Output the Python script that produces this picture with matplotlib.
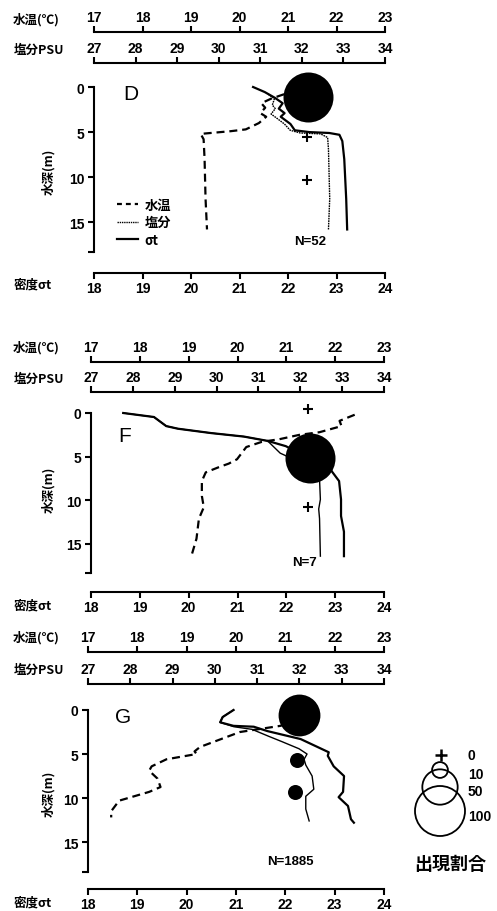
import matplotlib
matplotlib.use('Agg')
import matplotlib.pyplot as plt
from matplotlib.lines import Line2D
from matplotlib.font_manager import FontProperties

W, H = 497, 912
plt.rcParams['font.family'] = ['Liberation Sans', 'Noto Sans CJK JP', 'DejaVu Sans']
plt.rcParams['font.weight'] = 'bold'

CJK = ['Noto Sans CJK JP', 'DejaVu Sans']

# ---------------- data ----------------
temp_ticks = [17, 18, 19, 20, 21, 22, 23]
sal_ticks = [27, 28, 29, 30, 31, 32, 33, 34]
sig_ticks = [18, 19, 20, 21, 22, 23, 24]
depth_ticks = [0, 5, 10, 15]

# Panel D
D_temp = [20.92, 20.65, 20.45, 20.53, 20.43, 20.55, 20.4, 20.13, 19.82, 19.2, 19.26, 19.28, 19.3, 19.33]
D_temp_d = [0.8, 1.3, 1.8, 2.3, 2.9, 3.3, 4.0, 4.7, 4.9, 5.2, 5.8, 8.0, 12.4, 15.8]
D_sal = [31.19, 31.34, 31.29, 31.36, 31.26, 31.38, 31.58, 31.72, 31.96, 32.45, 32.62, 32.64, 32.67, 32.64]
D_sal_d = [0.8, 1.3, 2.0, 2.4, 3.0, 3.4, 4.1, 4.8, 5.1, 5.2, 5.6, 6.9, 12.4, 15.8]
D_sig = [21.28, 21.52, 21.73, 21.89, 21.81, 21.93, 21.85, 22.05, 22.14, 22.44, 22.85, 23.06, 23.12, 23.16, 23.2, 23.22]
D_sig_d = [0, 0.56, 1.2, 1.8, 2.4, 2.9, 3.3, 4.1, 4.8, 5.0, 5.1, 5.3, 6.0, 8.0, 12.4, 15.8]
D_occ_x = [22.42, 22.40, 22.40]
D_occ_d = [1.1, 5.5, 10.3]
D_occ_p = [100, 0, 0]

# Panel F
F_temp = [22.4, 22.09, 22.13, 21.68, 21.27, 20.86, 20.5, 20.18, 19.99, 19.82, 19.62, 19.35, 19.27, 19.27, 19.31, 19.21, 19.16, 19.06]
F_temp_d = [0.2, 0.9, 1.5, 2.2, 2.5, 3.0, 3.3, 3.9, 5.3, 5.8, 6.2, 6.8, 7.8, 9.5, 10.8, 12.1, 14.4, 16.3]
F_sal = [27.77, 28.5, 28.8, 29.08, 29.87, 30.65, 31.22, 31.52, 31.93, 32.41, 32.46, 32.48, 32.44, 32.46, 32.48]
F_sal_d = [0.0, 0.46, 1.5, 1.8, 2.3, 2.7, 3.2, 4.6, 5.5, 6.4, 7.6, 9.9, 11.0, 12.1, 16.4]
F_sig = [18.66, 19.29, 19.54, 19.78, 20.46, 21.13, 21.62, 21.99, 22.5, 22.92, 23.08, 23.12, 23.12, 23.18, 23.18]
F_sig_d = [0.0, 0.46, 1.5, 1.8, 2.3, 2.7, 3.2, 3.8, 5.3, 6.6, 7.8, 9.9, 11.8, 13.6, 16.4]
F_occ_x = [22.44, 22.48, 22.44]
F_occ_d = [-0.5, 5.2, 10.8]
F_occ_p = [0, 100, 0]

# Panel G
G_temp = [21.0, 20.9, 20.08, 19.27, 19.16, 19.2, 18.59, 18.29, 18.24, 18.41, 18.47, 18.24, 17.63, 17.47, 17.47]
G_temp_d = [1.6, 1.8, 2.5, 4.2, 4.7, 5.0, 5.6, 6.4, 6.9, 7.8, 8.75, 9.3, 10.3, 11.5, 12.2]
G_sal = [30.44, 30.18, 30.12, 30.45, 30.88, 31.28, 31.59, 31.99, 32.18, 32.11, 32.15, 32.3, 32.34, 32.15, 32.15, 32.23]
G_sal_d = [0.0, 0.8, 1.4, 1.9, 2.2, 3.0, 3.6, 4.4, 5.0, 5.6, 6.25, 7.5, 9.0, 9.8, 11.25, 12.6]
G_sig = [20.95, 20.73, 20.68, 20.95, 21.36, 21.64, 22.31, 22.88, 22.86, 22.98, 23.19, 23.17, 23.08, 23.27, 23.33, 23.39]
G_sig_d = [0, 0.8, 1.4, 1.8, 1.9, 2.4, 3.3, 4.8, 5.2, 6.4, 7.5, 9.3, 9.9, 10.9, 12.4, 12.8]
G_occ_x = [22.27, 22.23, 22.19]
G_occ_d = [0.6, 5.7, 9.3]
G_occ_p = [70, 9, 9]

legend_pcts = [0, 10, 50, 100]
legend_labels = ['0', '10', '50', '100']

SIZE_K = 12.96  # scatter area per percent

# ---------------- layout (pixels) ----------------
panels = [
    dict(name='D', left=94, right=385, top=88, bot=253, dmax=18.3,
         t_off=55, s_off=24, g_off=21,
         temp=(D_temp, D_temp_d), sal=(D_sal, D_sal_d), sig=(D_sig, D_sig_d),
         occ=(D_occ_x, D_occ_d, D_occ_p), N='N=52', Npos=(294, 242),
         lpos=(123, 94), sal_ls=(0, (1.2, 0.6)), ylab_y=172,
         lab_y=(20, 50, 285)),
    dict(name='F', left=91, right=384, top=414, bot=574, dmax=18.33,
         t_off=51, s_off=21, g_off=19,
         temp=(F_temp, F_temp_d), sal=(F_sal, F_sal_d), sig=(F_sig, F_sig_d),
         occ=(F_occ_x, F_occ_d, F_occ_p), N='N=7', Npos=(292, 563),
         lpos=(118, 437), sal_ls='-', ylab_y=490,
         lab_y=(348, 379, 606)),
    dict(name='G', left=88, right=384, top=711, bot=873, dmax=18.4,
         t_off=58, s_off=26, g_off=17,
         temp=(G_temp, G_temp_d), sal=(G_sal, G_sal_d), sig=(G_sig, G_sig_d),
         occ=(G_occ_x, G_occ_d, G_occ_p), N='N=1885', Npos=(267, 862),
         lpos=(115, 718), sal_ls='-', ylab_y=794,
         lab_y=(638, 670, 903)),
]

fig = plt.figure(figsize=(W / 100, H / 100), dpi=100)
PX = 0.72  # points per pixel

tick_kw = dict(length=4, width=1.5, labelsize=10, pad=2)

for p in panels:
    ax = fig.add_axes([p['left'] / W, 1 - p['bot'] / H,
                       (p['right'] - p['left']) / W, (p['bot'] - p['top']) / H])
    ax.set_facecolor('none')
    ax.set_xlim(18, 24)
    ax.set_ylim(p['dmax'], 0)
    for s in ['top', 'right']:
        ax.spines[s].set_visible(False)
    ax.spines['left'].set_linewidth(1.5)
    ax.spines['bottom'].set_linewidth(1.5)
    ax.spines['bottom'].set_position(('outward', p['g_off'] * PX))
    ax.set_xticks(sig_ticks)
    ax.set_yticks(depth_ticks)
    ax.set_yticks([p['dmax']], minor=True)
    ax.tick_params(axis='both', which='major', direction='out', **tick_kw)
    ax.tick_params(axis='y', which='minor', direction='out', length=4, width=1.5)
    ax.tick_params(axis='y', pad=3)
    for lab in ax.get_xticklabels() + ax.get_yticklabels():
        lab.set_fontweight('bold')

    # temperature axis
    axt = ax.twiny()
    axt.set_xlim(17, 23)
    for s in ['bottom', 'left', 'right']:
        axt.spines[s].set_visible(False)
    axt.spines['top'].set_linewidth(1.5)
    axt.spines['top'].set_position(('outward', p['t_off'] * PX))
    axt.set_xticks(temp_ticks)
    axt.tick_params(axis='x', direction='out', **tick_kw)

    # salinity axis
    axs = ax.twiny()
    axs.set_xlim(27, 34)
    for s in ['bottom', 'left', 'right']:
        axs.spines[s].set_visible(False)
    axs.spines['top'].set_linewidth(1.5)
    axs.spines['top'].set_position(('outward', p['s_off'] * PX))
    axs.set_xticks(sal_ticks)
    axs.tick_params(axis='x', direction='out', **tick_kw)
    for a in (axt, axs):
        for lab in a.get_xticklabels():
            lab.set_fontweight('bold')

    tv, td = p['temp']
    sv, sd = p['sal']
    gv, gd = p['sig']
    axt.plot(tv, td, color='black', lw=1.6, ls=(0, (3.6, 2.2)), clip_on=False)
    axs.plot(sv, sd, color='black', lw=1.0, ls=p['sal_ls'], clip_on=False)
    ax.plot(gv, gd, color='black', lw=1.6, clip_on=False)

    ox, od, op = p['occ']
    for x, d, pc in zip(ox, od, op):
        if pc == 0:
            ax.plot(x, d, marker='+', ms=7, mew=1.5, color='black', clip_on=False, zorder=5)
        else:
            ax.scatter([x], [d], s=SIZE_K * pc, color='black', zorder=5, clip_on=False,
                       linewidths=0)

    # texts
    fig.text(p['lpos'][0] / W, 1 - p['lpos'][1] / H, p['name'], fontsize=15,
             fontweight='normal', ha='left', va='center')
    fig.text(p['Npos'][0] / W, 1 - p['Npos'][1] / H, p['N'], fontsize=9.5,
             fontweight='bold', ha='left', va='center')
    ty, sy, gy = p['lab_y']
    fig.text(13 / W, 1 - ty / H, '水温(℃)', family=CJK, fontsize=9, fontweight='bold',
             ha='left', va='center')
    fig.text(14 / W, 1 - sy / H, '塩分PSU', family=CJK, fontsize=9, fontweight='bold',
             ha='left', va='center')
    fig.text(14 / W, 1 - gy / H, '密度σt', family=CJK, fontsize=9, fontweight='bold',
             ha='left', va='center')
    fig.text(49 / W, 1 - p['ylab_y'] / H, '水深(m)', family=CJK, fontsize=9,
             fontweight='bold', rotation=90, ha='center', va='center')

    if p['name'] == 'D':
        handles = [Line2D([], [], color='black', lw=1.6, ls=(0, (2.2, 1.8))),
                   Line2D([], [], color='black', lw=1.0, ls=(0, (1.0, 0.6))),
                   Line2D([], [], color='black', lw=1.6)]
        ax.legend(handles, ['水温', '塩分', 'σt'], loc='upper left',
                  bbox_to_anchor=(117 / W, 1 - 199 / H), bbox_transform=fig.transFigure,
                  frameon=False, handlelength=1.6, handletextpad=0.5, labelspacing=0.25,
                  borderpad=0, borderaxespad=0,
                  prop=FontProperties(family=CJK, weight='bold', size=9.5))

# size legend
axo = fig.add_axes([0, 0, 1, 1])
axo.set_xlim(0, W)
axo.set_ylim(H, 0)
axo.axis('off')
leg_cy = [756, 771, 788, 812]
leg_ty = [756, 775, 792, 817]
for pc, lab, cy, ty in zip(legend_pcts, legend_labels, leg_cy, leg_ty):
    if pc == 0:
        axo.plot(441, cy, marker='+', ms=9, mew=1.8, color='black')
    else:
        axo.scatter([440], [cy], s=SIZE_K * pc, facecolors='none', edgecolors='black',
                    linewidths=1.3)
    axo.text(468, ty, lab, fontsize=10, fontweight='bold', ha='left', va='center')
axo.text(450, 865, '出現割合', family=CJK, fontsize=13, fontweight='bold',
         ha='center', va='center')

fig.savefig('out.png', dpi=100)
